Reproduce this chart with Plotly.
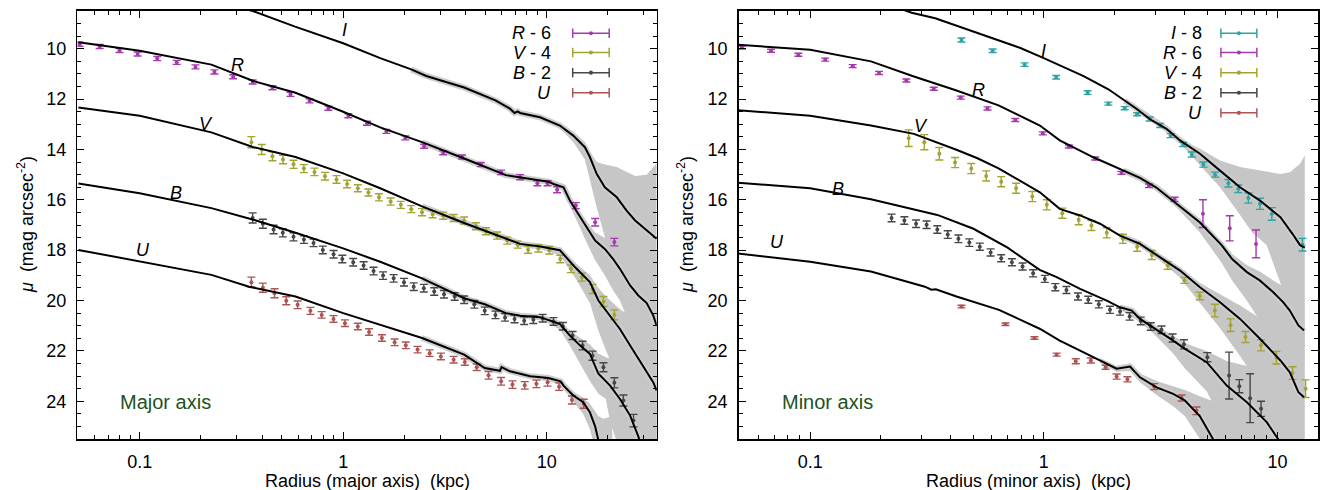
import math
import plotly.graph_objects as go

# ======================= MAJOR AXIS (left panel) =======================
# model curves (radius kpc, mu)
I_maj_r = [0.30, 0.36, 0.58, 1.0, 1.52, 2.16, 2.56, 3.93, 5.6, 6.6, 6.95, 7.2, 7.4, 9.27, 11.6, 13.5, 15.4, 16.3, 17.6, 19.3, 22.1, 24.7, 27.2, 31.0, 34.7]
I_maj_mu = [8.35, 8.5, 9.12, 9.78, 10.37, 10.82, 11.08, 11.54, 12.05, 12.38, 12.55, 12.49, 12.55, 12.72, 13.05, 13.45, 13.91, 14.3, 14.97, 15.5, 15.9, 16.43, 16.82, 17.22, 17.55]
R_maj_r = [0.05, 0.1, 0.225, 0.362, 0.583, 1.0, 1.52, 2.44, 3.93, 6.3, 10.2, 10.8, 12.1, 13.0, 14.3, 15.7, 17.3, 19.3, 21.2, 22.9, 25.7, 28.2, 31.0, 33.4, 34.7]
R_maj_mu = [9.74, 10.08, 10.63, 11.28, 11.75, 12.5, 13.12, 13.71, 14.36, 15.02, 15.28, 15.37, 15.5, 16.03, 16.56, 17.09, 17.62, 17.95, 18.35, 18.74, 19.4, 19.8, 20.1, 20.6, 21.0]
V_maj_r = [0.05, 0.1, 0.225, 0.362, 0.583, 1.0, 1.52, 2.44, 3.93, 6.3, 7.4, 9.3, 11.6, 13.8, 16.3, 17.95, 19.6, 22.9, 25.7, 29.6, 33.4, 34.7]
V_maj_mu = [12.33, 12.66, 13.32, 13.91, 14.30, 14.95, 15.54, 16.26, 16.92, 17.55, 17.75, 17.85, 18.0, 18.68, 19.27, 20.0, 20.40, 21.13, 21.79, 22.58, 23.25, 23.58]
B_maj_r = [0.05, 0.1, 0.225, 0.362, 0.583, 1.0, 1.52, 2.44, 3.93, 4.96, 6.3, 7.4, 9.27, 10.2, 11.6, 13.0, 14.6, 16.3, 17.95, 20.5, 22.9, 25.7, 28.3, 28.8]
B_maj_mu = [15.35, 15.74, 16.33, 16.79, 17.31, 17.93, 18.46, 19.12, 19.91, 20.15, 20.5, 20.6, 20.66, 20.77, 20.93, 21.39, 21.79, 22.12, 22.91, 23.38, 23.91, 24.57, 25.43, 25.76]
U_maj_r = [0.05, 0.1, 0.225, 0.345, 0.583, 1.0, 1.52, 2.44, 3.93, 4.96, 5.89, 6.0, 6.6, 8.3, 10.2, 11.7, 12.1, 13.5, 15.1, 16.3, 17.3, 17.95, 18.5]
U_maj_mu = [17.99, 18.46, 18.98, 19.45, 19.84, 20.50, 20.96, 21.49, 22.15, 22.68, 22.79, 22.64, 22.81, 23.01, 23.08, 23.21, 23.38, 23.77, 24.04, 24.44, 25.0, 25.5, 26.0]

# uncertainty envelopes (outer parts): radius, bright edge, faint edge
I_maj_band_r = [11.6, 13.5, 15.4, 16.3, 17.6, 19.3, 22.1, 24.7, 27.2, 31.0, 34.7]
I_maj_band_lo = [12.95, 13.3, 13.7, 14.1, 14.5, 14.6, 14.7, 14.9, 15.05, 15.0, 14.55]
I_maj_band_hi = [13.15, 13.7, 14.4, 15.2, 16.3, 17.5, 19.2, 20.3, 21.0, 21.8, 22.3]
R_maj_band_r = [10.2, 12.1, 13.0, 14.3, 15.7, 17.3, 19.3, 21.2, 22.9, 25.7, 28.2, 31.0, 34.7]
R_maj_band_lo = [15.18, 15.4, 15.9, 16.4, 16.85, 17.3, 17.5, 17.7, 17.9, 18.1, 18.2, 18.2, 18.0]
R_maj_band_hi = [15.38, 15.65, 16.25, 16.95, 17.7, 18.4, 19.0, 19.6, 20.0, 21.0, 22.3, 23.3, 24.6]
V_maj_band_r = [9.3, 11.6, 13.8, 16.3, 17.95, 19.6, 22.9, 25.7, 29.6, 33.4, 34.7]
V_maj_band_lo = [17.75, 17.9, 18.5, 19.0, 19.5, 19.85, 20.35, 20.6, 20.6, 20.4, 20.2]
V_maj_band_hi = [17.95, 18.2, 19.1, 20.1, 21.2, 22.0, 23.3, 24.5, 26.0, 27.0, 27.5]
B_maj_band_r = [9.27, 10.2, 11.6, 13.0, 14.6, 16.3, 17.95, 19.5, 20.5, 22.9, 25.7, 28.8, 34.7]
B_maj_band_lo = [20.56, 20.67, 20.83, 21.2, 21.5, 21.75, 22.1, 22.25, 22.3, 22.4, 22.4, 22.4, 22.2]
B_maj_band_hi = [20.76, 20.9, 21.15, 21.8, 22.5, 23.2, 23.7, 23.9, 24.8, 26.0, 27.2, 28.2, 29.0]
U_maj_band_r = [8.3, 10.2, 11.7, 13.5, 15.1, 16.3, 17.3, 17.95, 19.0, 21.0]
U_maj_band_lo = [22.91, 22.98, 23.11, 23.62, 23.85, 24.1, 24.4, 24.6, 24.7, 24.6]
U_maj_band_hi = [23.11, 23.2, 23.36, 24.0, 24.5, 25.1, 25.9, 26.5, 27.5, 28.5]

# observed profiles (offset as in the key)
R_maj_obs_r = [0.0506, 0.0636, 0.0796, 0.0977, 0.122, 0.152, 0.188, 0.233, 0.288, 0.359, 0.449, 0.551, 0.683, 0.846, 1.06, 1.31, 1.63, 2.02, 2.50, 3.10, 3.84, 4.75, 5.97, 7.4, 9.0, 10.1, 11.25, 13.9, 17.3, 21.5]
R_maj_obs_mu = [9.82, 9.91, 10.07, 10.21, 10.39, 10.54, 10.72, 10.92, 11.11, 11.32, 11.55, 11.81, 12.07, 12.36, 12.66, 12.96, 13.28, 13.54, 13.87, 14.13, 14.30, 14.60, 14.91, 15.1, 15.34, 15.34, 15.6, 16.23, 16.89, 17.68]
R_maj_obs_err = [0.08, 0.08, 0.08, 0.08, 0.08, 0.08, 0.08, 0.08, 0.08, 0.08, 0.08, 0.08, 0.08, 0.08, 0.08, 0.08, 0.08, 0.08, 0.08, 0.08, 0.08, 0.08, 0.09, 0.1, 0.1, 0.1, 0.12, 0.12, 0.15, 0.15]
V_maj_obs_r = [0.354, 0.398, 0.449, 0.506, 0.570, 0.641, 0.723, 0.814, 0.927, 1.045, 1.18, 1.33, 1.50, 1.71, 1.92, 2.16, 2.44, 2.75, 3.10, 3.49, 3.93, 4.49, 5.03, 5.70, 6.4, 7.2, 8.1, 9.1, 10.3, 11.65, 13.15, 14.9, 16.8, 19.0, 21.5]
V_maj_obs_mu = [13.71, 14.00, 14.27, 14.40, 14.59, 14.76, 14.89, 15.06, 15.19, 15.37, 15.54, 15.71, 15.90, 16.07, 16.20, 16.37, 16.49, 16.57, 16.63, 16.72, 16.82, 17.05, 17.25, 17.42, 17.62, 17.78, 17.98, 17.93, 18.0, 18.35, 18.74, 19.07, 19.54, 20.04, 20.57]
V_maj_obs_err = [0.22, 0.2, 0.18, 0.17, 0.16, 0.16, 0.15, 0.15, 0.15, 0.15, 0.14, 0.14, 0.14, 0.14, 0.14, 0.14, 0.14, 0.14, 0.14, 0.14, 0.14, 0.14, 0.14, 0.14, 0.14, 0.14, 0.14, 0.14, 0.15, 0.15, 0.15, 0.16, 0.18, 0.2, 0.2]
B_maj_obs_r = [0.359, 0.403, 0.455, 0.505, 0.570, 0.641, 0.715, 0.794, 0.897, 0.99, 1.12, 1.26, 1.41, 1.57, 1.77, 1.99, 2.22, 2.49, 2.8, 3.13, 3.53, 3.93, 4.41, 4.96, 5.6, 6.24, 6.95, 7.75, 8.6, 9.55, 10.8, 12.0, 13.4, 15.0, 16.8, 19.0, 21.5, 23.8, 26.7]
B_maj_obs_mu = [16.72, 16.95, 17.18, 17.31, 17.47, 17.58, 17.71, 17.99, 18.16, 18.35, 18.48, 18.61, 18.83, 19.01, 19.12, 19.27, 19.45, 19.51, 19.64, 19.75, 19.84, 19.97, 20.15, 20.41, 20.57, 20.67, 20.73, 20.8, 20.76, 20.70, 20.83, 21.02, 21.39, 21.79, 22.19, 22.65, 23.27, 23.97, 24.77]
B_maj_obs_err = [0.2, 0.18, 0.17, 0.16, 0.16, 0.15, 0.15, 0.15, 0.15, 0.15, 0.15, 0.15, 0.15, 0.15, 0.15, 0.15, 0.15, 0.15, 0.15, 0.15, 0.15, 0.15, 0.15, 0.15, 0.15, 0.15, 0.15, 0.15, 0.15, 0.15, 0.15, 0.15, 0.16, 0.17, 0.18, 0.18, 0.2, 0.22, 0.25]
U_maj_obs_r = [0.354, 0.403, 0.460, 0.525, 0.597, 0.690, 0.784, 0.896, 1.02, 1.18, 1.34, 1.55, 1.79, 2.03, 2.32, 2.66, 3.02, 3.49, 3.96, 4.53, 5.18, 5.97, 6.79, 7.8, 8.9, 10.1, 11.5, 13.3, 15.2]
U_maj_obs_mu = [19.27, 19.49, 19.71, 20.01, 20.17, 20.41, 20.57, 20.73, 20.90, 21.03, 21.25, 21.49, 21.66, 21.78, 21.95, 22.09, 22.22, 22.35, 22.44, 22.65, 22.97, 23.21, 23.34, 23.37, 23.31, 23.25, 23.42, 23.95, 24.1]
U_maj_obs_err = [0.2, 0.18, 0.18, 0.16, 0.15, 0.14, 0.13, 0.13, 0.13, 0.13, 0.13, 0.13, 0.13, 0.13, 0.13, 0.13, 0.13, 0.13, 0.13, 0.13, 0.15, 0.15, 0.15, 0.15, 0.15, 0.15, 0.15, 0.16, 0.18]

# ======================= MINOR AXIS (right panel) =======================
I_min_r = [0.25, 0.272, 0.343, 0.521, 0.794, 1.0, 1.15, 1.48, 1.89, 2.22, 2.51, 2.84, 3.35, 3.83, 4.66, 5.68, 6.92, 8.42, 10.3, 11.6, 12.5, 13.1]
I_min_mu = [8.45, 8.57, 8.79, 9.38, 9.97, 10.37, 10.63, 11.09, 11.61, 12.07, 12.4, 12.79, 13.18, 13.64, 14.17, 14.84, 15.5, 16.03, 16.69, 17.35, 17.8, 17.9]
R_min_r = [0.049, 0.1, 0.182, 0.278, 0.42, 0.64, 0.962, 1.17, 1.63, 2.19, 2.58, 3.04, 3.71, 4.02, 4.66, 5.77, 6.4, 7.4, 8.4, 9.6, 10.6, 11.3, 12.3, 13.0]
R_min_mu = [9.84, 10.04, 10.5, 11.1, 11.65, 12.25, 13.05, 13.64, 14.31, 14.84, 15.13, 15.52, 16.16, 16.4, 16.9, 17.8, 18.35, 18.87, 19.2, 19.67, 20.07, 20.4, 20.99, 21.19]
V_min_r = [0.049, 0.1, 0.182, 0.278, 0.42, 0.52, 0.64, 0.78, 0.962, 1.17, 1.43, 1.74, 2.12, 2.58, 3.14, 3.83, 4.66, 5.68, 6.92, 8.42, 10.3, 11.3, 12.3, 13.0]
V_min_mu = [12.44, 12.66, 13.05, 13.38, 14.0, 14.35, 14.75, 15.2, 15.7, 16.36, 16.62, 16.95, 17.42, 17.75, 18.28, 18.81, 19.47, 20.07, 20.73, 21.52, 22.38, 22.85, 23.64, 23.84]
B_min_r = [0.049, 0.1, 0.182, 0.278, 0.35, 0.5, 0.7, 0.96, 1.135, 1.43, 1.86, 2.12, 2.38, 2.58, 2.94, 3.58, 4.02, 4.98, 6.07, 7.4, 9.0, 10.1]
B_min_mu = [15.32, 15.54, 15.98, 16.40, 16.6, 17.15, 17.9, 18.78, 19.07, 19.54, 20.0, 20.27, 20.4, 20.73, 21.06, 21.59, 21.92, 22.45, 23.38, 24.04, 24.83, 25.52]
U_min_r = [0.049, 0.1, 0.182, 0.278, 0.31, 0.33, 0.345, 0.423, 0.643, 0.96, 1.17, 1.43, 1.74, 2.05, 2.34, 2.58, 3.04, 3.58, 4.02, 4.66, 5.3, 5.7]
U_min_mu = [18.13, 18.46, 18.85, 19.31, 19.45, 19.57, 19.55, 19.84, 20.37, 21.12, 21.59, 21.99, 22.38, 22.71, 22.62, 23.05, 23.45, 23.71, 23.97, 24.6, 25.5, 25.9]

I_min_band_r = [3.83, 4.23, 4.66, 5.68, 6.92, 7.8, 9.0, 10.3, 11.3, 12.5, 13.1]
I_min_band_lo = [13.54, 13.78, 13.97, 14.44, 14.7, 14.78, 14.88, 14.97, 14.9, 14.57, 14.24]
I_min_band_hi = [13.75, 14.2, 14.6, 15.5, 16.6, 17.3, 17.8, 19.3, 20.8, 22.0, 22.5]
R_min_band_r = [3.04, 3.71, 4.66, 5.77, 6.4, 7.4, 8.4, 9.6, 10.6, 11.3, 12.3, 13.0]
R_min_band_lo = [15.44, 16.06, 16.8, 17.65, 18.15, 18.6, 18.85, 19.2, 19.45, 19.6, 19.8, 19.7]
R_min_band_hi = [15.6, 16.3, 17.3, 18.5, 19.2, 20.0, 20.8, 21.8, 22.6, 23.2, 24.0, 24.5]
V_min_band_r = [2.58, 3.14, 3.83, 4.66, 5.68, 6.92, 8.42, 10.3, 11.3, 12.3, 13.0]
V_min_band_lo = [17.67, 18.2, 18.7, 19.3, 19.75, 20.2, 20.7, 21.0, 21.0, 20.9, 20.6]
V_min_band_hi = [17.83, 18.4, 19.1, 20.1, 21.1, 22.2, 23.4, 24.7, 25.4, 26.2, 26.7]
B_min_band_r = [2.12, 2.58, 2.94, 3.58, 4.02, 4.98, 6.07, 7.4, 9.0, 10.1, 13.1]
B_min_band_lo = [20.18, 20.63, 20.95, 21.4, 21.7, 22.0, 22.4, 22.6, 22.7, 22.7, 22.4]
B_min_band_hi = [20.36, 20.85, 21.3, 22.1, 22.7, 23.6, 25.2, 26.3, 27.3, 28.2, 29.0]
U_min_band_r = [1.74, 2.05, 2.34, 2.58, 3.04, 3.58, 4.02, 4.66, 5.3, 6.0, 7.0]
U_min_band_lo = [22.28, 22.6, 22.5, 22.9, 23.2, 23.4, 23.55, 23.8, 24.0, 24.1, 24.0]
U_min_band_hi = [22.48, 22.83, 22.8, 23.25, 23.75, 24.2, 24.6, 25.5, 26.6, 27.5, 28.5]

I_min_obs_r = [0.444, 0.604, 0.828, 1.13, 1.54, 1.89, 2.22, 2.51, 2.84, 3.15, 3.49, 3.95, 4.3, 4.82, 5.41, 6.17, 6.8, 7.51, 8.42, 9.46, 12.8]
I_min_obs_mu = [9.65, 10.08, 10.63, 11.13, 11.74, 12.18, 12.36, 12.6, 12.79, 13.05, 13.45, 13.80, 14.2, 14.6, 15.0, 15.34, 15.56, 15.93, 16.16, 16.56, 17.78]
I_min_obs_err = [0.08, 0.07, 0.07, 0.07, 0.07, 0.06, 0.06, 0.06, 0.08, 0.08, 0.08, 0.08, 0.1, 0.1, 0.1, 0.15, 0.15, 0.2, 0.22, 0.25, 0.25]
R_min_obs_r = [0.051, 0.068, 0.089, 0.116, 0.152, 0.197, 0.258, 0.338, 0.441, 0.574, 0.755, 0.99, 1.28, 1.66, 2.15, 2.82, 3.63, 4.8, 6.25, 8.1]
R_min_obs_mu = [9.95, 10.08, 10.24, 10.43, 10.69, 10.96, 11.26, 11.59, 11.94, 12.37, 12.83, 13.36, 13.88, 14.36, 14.93, 15.44, 15.98, 16.55, 17.13, 17.75]
R_min_obs_err = [0.06, 0.06, 0.06, 0.06, 0.06, 0.06, 0.06, 0.06, 0.06, 0.06, 0.06, 0.06, 0.06, 0.06, 0.06, 0.07, 0.08, 0.55, 0.5, 0.55]
V_min_obs_r = [0.264, 0.308, 0.357, 0.417, 0.489, 0.567, 0.657, 0.761, 0.893, 1.03, 1.20, 1.41, 1.60, 1.86, 2.18, 2.51, 2.90, 3.39, 4.0, 4.65, 5.4, 6.3, 7.3, 8.5, 9.9, 11.6, 13.2]
V_min_obs_mu = [13.55, 13.71, 14.17, 14.52, 14.76, 15.05, 15.28, 15.54, 15.87, 16.20, 16.53, 16.79, 17.02, 17.31, 17.55, 17.86, 18.19, 18.61, 19.2, 19.82, 20.4, 20.98, 21.45, 21.78, 22.27, 22.88, 23.5]
V_min_obs_err = [0.33, 0.3, 0.25, 0.2, 0.2, 0.2, 0.2, 0.2, 0.2, 0.2, 0.2, 0.2, 0.2, 0.2, 0.18, 0.18, 0.18, 0.15, 0.12, 0.15, 0.25, 0.25, 0.22, 0.22, 0.25, 0.25, 0.35]
B_min_obs_r = [0.223, 0.253, 0.284, 0.315, 0.35, 0.388, 0.431, 0.48, 0.532, 0.592, 0.657, 0.73, 0.811, 0.9, 1.01, 1.12, 1.25, 1.40, 1.55, 1.72, 1.92, 2.12, 2.33, 2.6, 2.87, 3.19, 3.56, 3.98, 5.01, 6.21, 6.87, 7.64, 8.51]
B_min_obs_mu = [16.72, 16.82, 16.95, 16.99, 17.18, 17.38, 17.55, 17.7, 17.86, 18.09, 18.32, 18.48, 18.65, 18.92, 19.14, 19.47, 19.58, 19.84, 19.97, 20.15, 20.37, 20.44, 20.63, 20.81, 21.03, 21.16, 21.49, 21.74, 22.25, 22.98, 23.4, 23.88, 24.3]
B_min_obs_err = [0.15, 0.15, 0.15, 0.15, 0.15, 0.15, 0.15, 0.15, 0.14, 0.14, 0.14, 0.14, 0.14, 0.14, 0.14, 0.14, 0.14, 0.14, 0.14, 0.14, 0.14, 0.14, 0.15, 0.15, 0.15, 0.15, 0.16, 0.18, 0.18, 0.93, 0.26, 0.97, 0.3]
U_min_obs_r = [0.444, 0.685, 0.912, 1.135, 1.37, 1.59, 1.84, 2.05, 2.28, 2.97, 3.89, 4.5]
U_min_obs_mu = [20.24, 20.94, 21.49, 22.15, 22.41, 22.38, 22.65, 23.02, 23.13, 23.42, 23.87, 24.38]
U_min_obs_err = [0.05, 0.05, 0.05, 0.06, 0.1, 0.1, 0.08, 0.1, 0.1, 0.12, 0.12, 0.15]

band_names_major = ["R", "V", "B", "U"]
band_offsets_major = ["6", "4", "2", ""]
band_names_minor = ["I", "R", "V", "B", "U"]
band_offsets_minor = ["8", "6", "4", "2", ""]

COL = {"I": "#2fa3a3", "R": "#a53aab", "V": "#a3a332", "B": "#474747", "U": "#ad5454"}
GREY = "rgb(198,198,198)"
HALO = "rgb(205,205,205)"
FONT = "Liberation Sans, Arial, sans-serif"

fig = go.Figure()


def band(r, lo, hi, xa, ya):
    fig.add_trace(go.Scatter(x=list(r) + list(r)[::-1], y=list(lo) + list(hi)[::-1],
                             fill="toself", fillcolor=GREY, line=dict(width=0),
                             mode="lines", xaxis=xa, yaxis=ya, hoverinfo="skip", showlegend=False))


def halo(r, mu, xa, ya, rmin=2.0):
    rr = [a for a in r if a >= rmin]
    mm = [b for a, b in zip(r, mu) if a >= rmin]
    fig.add_trace(go.Scatter(x=rr, y=mm, mode="lines", line=dict(color=HALO, width=6),
                             xaxis=xa, yaxis=ya, hoverinfo="skip", showlegend=False))


def curve(r, mu, xa, ya):
    fig.add_trace(go.Scatter(x=r, y=mu, mode="lines", line=dict(color="black", width=2),
                             xaxis=xa, yaxis=ya, hoverinfo="skip", showlegend=False))


def obs(r, mu, err, c, xa, ya):
    fig.add_trace(go.Scatter(x=r, y=mu, mode="markers", marker=dict(size=4, color=c),
                             error_y=dict(type="data", array=err, width=4, thickness=1.4, color=c),
                             xaxis=xa, yaxis=ya, hoverinfo="skip", showlegend=False))


for r, lo, hi in [(I_maj_band_r, I_maj_band_lo, I_maj_band_hi), (R_maj_band_r, R_maj_band_lo, R_maj_band_hi),
                  (V_maj_band_r, V_maj_band_lo, V_maj_band_hi), (B_maj_band_r, B_maj_band_lo, B_maj_band_hi),
                  (U_maj_band_r, U_maj_band_lo, U_maj_band_hi)]:
    band(r, lo, hi, "x", "y")
for r, lo, hi in [(I_min_band_r, I_min_band_lo, I_min_band_hi), (R_min_band_r, R_min_band_lo, R_min_band_hi),
                  (V_min_band_r, V_min_band_lo, V_min_band_hi), (B_min_band_r, B_min_band_lo, B_min_band_hi),
                  (U_min_band_r, U_min_band_lo, U_min_band_hi)]:
    band(r, lo, hi, "x2", "y2")

maj_curves = [(I_maj_r, I_maj_mu), (R_maj_r, R_maj_mu), (V_maj_r, V_maj_mu), (B_maj_r, B_maj_mu), (U_maj_r, U_maj_mu)]
min_curves = [(I_min_r, I_min_mu), (R_min_r, R_min_mu), (V_min_r, V_min_mu), (B_min_r, B_min_mu), (U_min_r, U_min_mu)]
for r, mu in maj_curves:
    halo(r, mu, "x", "y")
for r, mu in min_curves:
    halo(r, mu, "x2", "y2")

obs(U_maj_obs_r, U_maj_obs_mu, U_maj_obs_err, COL["U"], "x", "y")
obs(B_maj_obs_r, B_maj_obs_mu, B_maj_obs_err, COL["B"], "x", "y")
obs(V_maj_obs_r, V_maj_obs_mu, V_maj_obs_err, COL["V"], "x", "y")
obs(R_maj_obs_r, R_maj_obs_mu, R_maj_obs_err, COL["R"], "x", "y")
obs(U_min_obs_r, U_min_obs_mu, U_min_obs_err, COL["U"], "x2", "y2")
obs(B_min_obs_r, B_min_obs_mu, B_min_obs_err, COL["B"], "x2", "y2")
obs(V_min_obs_r, V_min_obs_mu, V_min_obs_err, COL["V"], "x2", "y2")
obs(R_min_obs_r, R_min_obs_mu, R_min_obs_err, COL["R"], "x2", "y2")
obs(I_min_obs_r, I_min_obs_mu, I_min_obs_err, COL["I"], "x2", "y2")

for r, mu in maj_curves:
    curve(r, mu, "x", "y")
for r, mu in min_curves:
    curve(r, mu, "x2", "y2")

# ---------------- axes ----------------
W, H = 1324, 490
L_DOM = [77.4 / W, 656.7 / W]
R_DOM = [738.7 / W, 1318.3 / W]

x_minor_maj = [0.06, 0.07, 0.08, 0.09, 0.2, 0.3, 0.4, 0.5, 0.6, 0.7, 0.8, 0.9, 2, 3, 4, 5, 6, 7, 8, 9, 20, 30]
x_minor_min = [0.06, 0.07, 0.08, 0.09, 0.2, 0.3, 0.4, 0.5, 0.6, 0.7, 0.8, 0.9, 2, 3, 4, 5, 6, 7, 8, 9]
y_major = [10, 12, 14, 16, 18, 20, 22, 24]
y_minor = [9, 9.5, 10.5, 11, 11.5, 12.5, 13, 13.5, 14.5, 15, 15.5, 16.5, 17, 17.5, 18.5, 19, 19.5,
           20.5, 21, 21.5, 22.5, 23, 23.5, 24.5, 25, 25.5]
x_major = [0.1, 1, 10]
x_major_text = ["0.1", "1", "10"]

common_x = dict(type="log", showline=True, linecolor="black", linewidth=1.6, mirror="allticks",
                ticks="inside", ticklen=7, tickwidth=1, tickcolor="black", showgrid=False, zeroline=False,
                tickvals=x_major, ticktext=x_major_text, tickfont=dict(family=FONT, size=18, color="black"),
                ticklabelstandoff=6)
common_y = dict(range=[25.5, 8.5], showline=True, linecolor="black", linewidth=1.6, mirror="allticks",
                ticks="inside", ticklen=7, tickwidth=1, tickcolor="black", showgrid=False, zeroline=False,
                tickvals=y_major, ticktext=[str(v) for v in y_major],
                tickfont=dict(family=FONT, size=18, color="black"), ticklabelstandoff=6,
                minor=dict(ticks="inside", ticklen=4, tickwidth=1, tickcolor="black", tickvals=y_minor))

fig.update_layout(
    width=W, height=H, margin=dict(l=0, r=0, t=11, b=51),
    paper_bgcolor="white", plot_bgcolor="white", showlegend=False,
    xaxis=dict(domain=L_DOM, range=[-1.306, 1.5405], anchor="y",
               minor=dict(ticks="inside", ticklen=4, tickwidth=1, tickcolor="black", tickvals=x_minor_maj),
               **common_x),
    yaxis=dict(domain=[0, 1], anchor="x", **common_y),
    xaxis2=dict(domain=R_DOM, range=[-1.306, 1.175], anchor="y2",
                minor=dict(ticks="inside", ticklen=4, tickwidth=1, tickcolor="black", tickvals=x_minor_min),
                **common_x),
    yaxis2=dict(domain=[0, 1], anchor="x2", **common_y),
)

ann = []
ann.append(dict(text="Radius (major axis)  (kpc)", x=(L_DOM[0] + L_DOM[1]) / 2, y=-0.098, xref="paper", yref="paper",
                showarrow=False, font=dict(family=FONT, size=18, color="black"), xanchor="center", yanchor="middle"))
ann.append(dict(text="Radius (minor axis)  (kpc)", x=(R_DOM[0] + R_DOM[1]) / 2, y=-0.098, xref="paper", yref="paper",
                showarrow=False, font=dict(family=FONT, size=18, color="black"), xanchor="center", yanchor="middle"))
for xp in [25 / W, 685 / W]:
    ann.append(dict(text="<i>μ</i>  (mag arcsec<sup>-2</sup>)", x=xp, y=0.5, xref="paper", yref="paper",
                    textangle=-90, showarrow=False, font=dict(family=FONT, size=18, color="black"),
                    xanchor="center", yanchor="middle"))
ann.append(dict(text="Major axis", x=0.07, y=0.086, xref="x domain", yref="y domain", showarrow=False,
                xanchor="left", yanchor="middle", font=dict(family=FONT, size=20, color="#1b531b")))
ann.append(dict(text="Minor axis", x=0.071, y=0.086, xref="x2 domain", yref="y2 domain", showarrow=False,
                xanchor="left", yanchor="middle", font=dict(family=FONT, size=20, color="#1b531b")))

curve_labels_major = [("I", 1.02, 9.27), ("R", 0.303, 10.66), ("V", 0.212, 12.97), ("B", 0.151, 15.71), ("U", 0.104, 18.01)]
curve_labels_minor = [("I", 1.0, 10.07), ("R", 0.525, 11.63), ("V", 0.298, 13.05), ("B", 0.132, 15.56), ("U", 0.072, 17.68)]
for t, xv, yv in curve_labels_major:
    ann.append(dict(text="<i>%s</i>" % t, x=math.log10(xv), y=yv, xref="x", yref="y", showarrow=False,
                    font=dict(family=FONT, size=18, color="black")))
for t, xv, yv in curve_labels_minor:
    ann.append(dict(text="<i>%s</i>" % t, x=math.log10(xv), y=yv, xref="x2", yref="y2", showarrow=False,
                    font=dict(family=FONT, size=18, color="black")))

shapes = []


def key(names, offs, xr, yr, xt, x0, x1, y_rows):
    for nm, off, yy in zip(names, offs, y_rows):
        label = "<i>%s</i>" % nm + (" - %s" % off if off else "")
        ann.append(dict(text=label, x=xt, y=yy, xref=xr, yref=yr, showarrow=False, xanchor="right",
                        yanchor="middle", font=dict(family=FONT, size=18, color="black")))
        c = COL[nm]
        shapes.append(dict(type="line", xref=xr, yref=yr, x0=x0, x1=x1, y0=yy, y1=yy, line=dict(color=c, width=1.5)))
        for xc in (x0, x1):
            shapes.append(dict(type="line", xref=xr, yref=yr, x0=xc, x1=xc, y0=yy - 0.011, y1=yy + 0.011,
                               line=dict(color=c, width=1.5)))
        xm = (x0 + x1) / 2
        shapes.append(dict(type="circle", xref=xr, yref=yr, x0=xm - 0.0035, x1=xm + 0.0035, y0=yy - 0.0047,
                           y1=yy + 0.0047, fillcolor=c, line=dict(color=c, width=0)))


key(band_names_major, band_offsets_major, "x domain", "y domain", 0.821, 0.855, 0.918, [0.948, 0.903, 0.856, 0.809])
key(band_names_minor, band_offsets_minor, "x2 domain", "y2 domain", 0.803, 0.832, 0.894, [0.948, 0.903, 0.856, 0.809, 0.762])

fig.update_layout(annotations=ann, shapes=shapes)
fig.write_html("out.html", config={"displayModeBar": False, "staticPlot": True},
               post_script="document.body.style.margin='0px';document.body.style.padding='0px';document.body.style.overflow='hidden';")
